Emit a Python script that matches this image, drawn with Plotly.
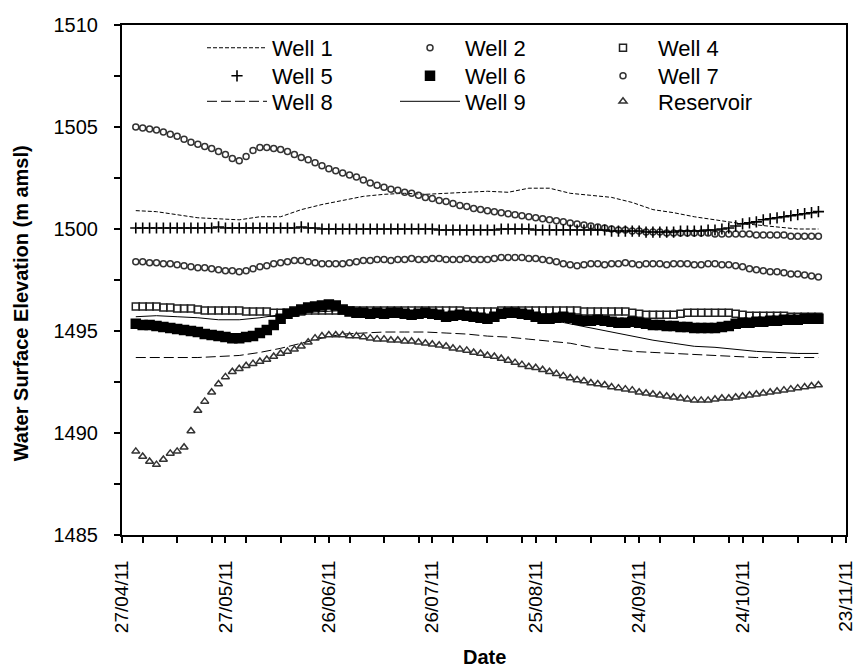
import pandas as pd
import plotly.graph_objects as go

# Observation dates: marker series sampled every 2 days, line series every 6 days
marker_dates = pd.date_range("2011-05-01", periods=100, freq="2D")
line_dates = pd.date_range("2011-05-01", periods=34, freq="6D")

well1 = [1500.90, 1500.85, 1500.70, 1500.55, 1500.50, 1500.45, 1500.60, 1500.60, 1500.95, 1501.20,
         1501.40, 1501.60, 1501.70, 1501.75, 1501.70, 1501.75, 1501.80, 1501.85, 1501.80, 1502.00,
         1502.00, 1501.75, 1501.65, 1501.55, 1501.30, 1500.95, 1500.80, 1500.60, 1500.45, 1500.30,
         1500.20, 1500.10, 1500.00, 1500.00]

well8 = [1493.70, 1493.70, 1493.70, 1493.70, 1493.75, 1493.80, 1493.95, 1494.15, 1494.40, 1494.65,
         1494.85, 1494.90, 1494.95, 1494.95, 1494.95, 1494.90, 1494.85, 1494.75, 1494.70, 1494.60,
         1494.50, 1494.40, 1494.20, 1494.10, 1494.00, 1493.95, 1493.90, 1493.85, 1493.80, 1493.75,
         1493.70, 1493.70, 1493.70, 1493.70]

well9 = [1495.70, 1495.75, 1495.70, 1495.65, 1495.55, 1495.55, 1495.65, 1495.80, 1495.90, 1495.95,
         1496.00, 1496.00, 1496.00, 1495.95, 1495.95, 1495.90, 1495.85, 1495.80, 1495.75, 1495.70,
         1495.55, 1495.35, 1495.15, 1494.95, 1494.75, 1494.55, 1494.40, 1494.25, 1494.20, 1494.10,
         1494.00, 1493.95, 1493.90, 1493.90]

well2 = [1505.00, 1504.95, 1504.90, 1504.85, 1504.75, 1504.65, 1504.55, 1504.40, 1504.25, 1504.15,
         1504.05, 1503.95, 1503.80, 1503.65, 1503.45, 1503.35, 1503.55, 1503.85, 1504.00, 1504.00,
         1503.95, 1503.90, 1503.80, 1503.65, 1503.50, 1503.40, 1503.25, 1503.10, 1502.95, 1502.85,
         1502.75, 1502.65, 1502.55, 1502.40, 1502.25, 1502.15, 1502.05, 1501.95, 1501.90, 1501.80,
         1501.75, 1501.65, 1501.55, 1501.50, 1501.40, 1501.35, 1501.25, 1501.15, 1501.10, 1501.00,
         1500.95, 1500.90, 1500.85, 1500.80, 1500.75, 1500.70, 1500.65, 1500.60, 1500.55, 1500.50,
         1500.45, 1500.40, 1500.35, 1500.30, 1500.25, 1500.20, 1500.15, 1500.10, 1500.05, 1500.00,
         1499.95, 1499.95, 1499.90, 1499.90, 1499.85, 1499.85, 1499.85, 1499.80, 1499.80, 1499.80,
         1499.80, 1499.80, 1499.80, 1499.80, 1499.75, 1499.75, 1499.75, 1499.75, 1499.75, 1499.75,
         1499.70, 1499.70, 1499.70, 1499.70, 1499.70, 1499.65, 1499.65, 1499.65, 1499.65, 1499.65]

well4 = [1496.20, 1496.20, 1496.20, 1496.20, 1496.15, 1496.15, 1496.10, 1496.10, 1496.10, 1496.05,
         1496.00, 1496.00, 1496.00, 1496.00, 1496.00, 1496.00, 1495.95, 1495.95, 1495.95, 1495.95,
         1495.90, 1495.90, 1495.90, 1495.90, 1495.95, 1496.00, 1496.00, 1496.00, 1496.00, 1496.00,
         1496.00, 1496.00, 1496.00, 1496.00, 1496.00, 1496.00, 1496.00, 1496.00, 1496.00, 1496.00,
         1496.00, 1496.00, 1496.00, 1496.00, 1496.00, 1496.00, 1496.00, 1496.00, 1495.95, 1495.95,
         1495.95, 1495.95, 1495.95, 1496.00, 1496.00, 1496.00, 1496.00, 1496.00, 1496.00, 1496.00,
         1496.00, 1496.00, 1496.00, 1496.00, 1496.00, 1495.95, 1495.95, 1495.95, 1495.95, 1495.95,
         1495.95, 1495.95, 1495.90, 1495.85, 1495.80, 1495.80, 1495.80, 1495.80, 1495.80, 1495.85,
         1495.90, 1495.90, 1495.90, 1495.90, 1495.90, 1495.90, 1495.90, 1495.85, 1495.80, 1495.75,
         1495.75, 1495.75, 1495.75, 1495.75, 1495.75, 1495.70, 1495.70, 1495.70, 1495.70, 1495.70]

well5 = [1500.05, 1500.05, 1500.05, 1500.05, 1500.05, 1500.05, 1500.05, 1500.05, 1500.05, 1500.05,
         1500.05, 1500.05, 1500.10, 1500.05, 1500.05, 1500.05, 1500.05, 1500.05, 1500.05, 1500.05,
         1500.05, 1500.05, 1500.05, 1500.05, 1500.10, 1500.05, 1500.05, 1500.00, 1500.00, 1500.00,
         1500.00, 1500.00, 1500.00, 1500.00, 1500.00, 1500.00, 1500.00, 1500.00, 1500.00, 1500.00,
         1500.00, 1500.00, 1500.00, 1500.00, 1499.95, 1499.95, 1499.95, 1499.95, 1499.95, 1499.95,
         1499.95, 1499.95, 1499.95, 1500.00, 1500.00, 1500.00, 1500.00, 1500.00, 1499.95, 1499.95,
         1499.95, 1499.95, 1499.95, 1499.95, 1499.95, 1499.95, 1499.95, 1499.95, 1499.95, 1499.90,
         1499.90, 1499.90, 1499.90, 1499.90, 1499.85, 1499.85, 1499.85, 1499.85, 1499.85, 1499.90,
         1499.90, 1499.90, 1499.90, 1499.95, 1499.95, 1500.00, 1500.05, 1500.15, 1500.25, 1500.30,
         1500.35, 1500.45, 1500.50, 1500.55, 1500.60, 1500.65, 1500.70, 1500.75, 1500.80, 1500.85]

well6 = [1495.35, 1495.30, 1495.30, 1495.25, 1495.20, 1495.15, 1495.10, 1495.05, 1495.00, 1494.95,
         1494.85, 1494.80, 1494.75, 1494.70, 1494.65, 1494.65, 1494.70, 1494.75, 1494.90, 1495.05,
         1495.30, 1495.60, 1495.85, 1495.95, 1496.05, 1496.15, 1496.20, 1496.25, 1496.30, 1496.25,
         1496.05, 1495.95, 1495.90, 1495.90, 1495.85, 1495.90, 1495.85, 1495.90, 1495.90, 1495.85,
         1495.80, 1495.85, 1495.90, 1495.85, 1495.80, 1495.70, 1495.75, 1495.80, 1495.75, 1495.70,
         1495.65, 1495.60, 1495.70, 1495.85, 1495.90, 1495.90, 1495.85, 1495.80, 1495.70, 1495.60,
         1495.60, 1495.65, 1495.70, 1495.65, 1495.55, 1495.50, 1495.50, 1495.55, 1495.50, 1495.45,
         1495.40, 1495.40, 1495.45, 1495.40, 1495.35, 1495.30, 1495.30, 1495.25, 1495.25, 1495.20,
         1495.20, 1495.15, 1495.15, 1495.15, 1495.15, 1495.20, 1495.25, 1495.35, 1495.40, 1495.40,
         1495.45, 1495.45, 1495.50, 1495.50, 1495.55, 1495.55, 1495.55, 1495.60, 1495.60, 1495.60]

well7 = [1498.40, 1498.40, 1498.35, 1498.35, 1498.30, 1498.30, 1498.25, 1498.20, 1498.15, 1498.10,
         1498.10, 1498.05, 1498.00, 1497.95, 1497.95, 1497.90, 1497.95, 1498.05, 1498.15, 1498.20,
         1498.30, 1498.35, 1498.40, 1498.45, 1498.45, 1498.40, 1498.35, 1498.30, 1498.30, 1498.30,
         1498.30, 1498.35, 1498.40, 1498.45, 1498.45, 1498.50, 1498.50, 1498.45, 1498.50, 1498.50,
         1498.55, 1498.50, 1498.50, 1498.55, 1498.55, 1498.50, 1498.50, 1498.50, 1498.55, 1498.50,
         1498.50, 1498.50, 1498.55, 1498.60, 1498.60, 1498.60, 1498.60, 1498.55, 1498.55, 1498.50,
         1498.45, 1498.40, 1498.30, 1498.25, 1498.20, 1498.25, 1498.30, 1498.30, 1498.25, 1498.30,
         1498.30, 1498.35, 1498.30, 1498.25, 1498.30, 1498.30, 1498.30, 1498.25, 1498.30, 1498.30,
         1498.30, 1498.25, 1498.25, 1498.30, 1498.30, 1498.25, 1498.25, 1498.20, 1498.15, 1498.05,
         1498.00, 1497.95, 1497.90, 1497.90, 1497.85, 1497.80, 1497.80, 1497.75, 1497.70, 1497.65]

reservoir = [1489.10, 1488.85, 1488.60, 1488.45, 1488.70, 1489.00, 1489.10, 1489.30, 1490.10, 1491.10,
             1491.55, 1492.00, 1492.40, 1492.75, 1493.00, 1493.15, 1493.30, 1493.40, 1493.50, 1493.60,
             1493.75, 1493.90, 1494.00, 1494.10, 1494.25, 1494.45, 1494.65, 1494.75, 1494.80, 1494.80,
             1494.80, 1494.75, 1494.75, 1494.70, 1494.65, 1494.60, 1494.60, 1494.55, 1494.55, 1494.50,
             1494.50, 1494.45, 1494.40, 1494.35, 1494.30, 1494.25, 1494.15, 1494.10, 1494.05, 1493.95,
             1493.90, 1493.80, 1493.75, 1493.65, 1493.55, 1493.45, 1493.35, 1493.25, 1493.20, 1493.10,
             1493.00, 1492.90, 1492.80, 1492.70, 1492.60, 1492.55, 1492.45, 1492.40, 1492.35, 1492.25,
             1492.20, 1492.15, 1492.10, 1492.00, 1491.95, 1491.90, 1491.85, 1491.80, 1491.75, 1491.70,
             1491.65, 1491.60, 1491.60, 1491.60, 1491.65, 1491.70, 1491.70, 1491.75, 1491.80, 1491.85,
             1491.90, 1491.95, 1492.00, 1492.05, 1492.10, 1492.15, 1492.20, 1492.25, 1492.30, 1492.35]

FONT = "Liberation Sans, Arial, sans-serif"
DAY_MS = 86400000

fig = go.Figure()


def add_line(name, y, dash, legend):
    fig.add_trace(go.Scatter(
        x=line_dates, y=y, name=name, mode="lines", legend=legend,
        line=dict(color="black", width=1, dash=dash),
    ))


def add_markers(name, y, symbol, size, color, legend, width=1.5):
    fig.add_trace(go.Scatter(
        x=marker_dates, y=y, name=name, mode="markers", legend=legend,
        marker=dict(symbol=symbol, size=size, color=color,
                    line=dict(color=color, width=width)),
    ))


# Row 1 of the key
add_line("Well 1", well1, "4px,2px", "legend")
add_markers("Well 2", well2, "circle-open", 6, "#333333", "legend")
add_markers("Well 4", well4, "square-open", 7, "#222222", "legend")
# Row 2
add_markers("Well 5", well5, "cross-thin-open", 8, "black", "legend2", 1.6)
add_markers("Well 6", well6, "square", 9, "black", "legend2")
add_markers("Well 7", well7, "circle-open", 6, "#333333", "legend2")
# Row 3
add_line("Well 8", well8, "10px,4px", "legend3")
add_line("Well 9", well9, "solid", "legend3")
add_markers("Reservoir", reservoir, "triangle-up-open", 7, "#333333", "legend3")

legend_common = dict(
    orientation="h", x=0.1105, xanchor="left", yanchor="middle",
    itemwidth=60, entrywidth=118, bgcolor="rgba(0,0,0,0)",
    font=dict(family=FONT, size=22, color="black"),
)

fig.update_layout(
    width=858, height=667,
    margin=dict(l=122, r=12, t=25, b=132),
    paper_bgcolor="white", plot_bgcolor="white",
    font=dict(family=FONT, color="black"),
    legend=dict(legend_common, y=0.955),
    legend2=dict(legend_common, y=0.900),
    legend3=dict(legend_common, y=0.850),
    xaxis=dict(
        type="date",
        range=["2011-04-27", "2011-11-23"],
        tick0="2011-04-27", dtick=30 * DAY_MS,
        tickformat="%d/%m/%y", tickangle=-90,
        ticks="outside", ticklen=6, tickwidth=1.5, tickcolor="black",
        minor=dict(dtick=10 * DAY_MS, ticks="outside", ticklen=6,
                   tickwidth=1.5, tickcolor="black"),
        showgrid=False, zeroline=False,
        showline=True, linecolor="black", linewidth=2, mirror=True,
        tickfont=dict(family=FONT, size=19, color="black"),
        ticklabelstandoff=10,
        automargin=False,
    ),
    yaxis=dict(
        range=[1485, 1510], tick0=1485, dtick=5,
        ticks="outside", ticklen=6, tickwidth=1.5, tickcolor="black",
        minor=dict(dtick=2.5, ticks="outside", ticklen=6,
                   tickwidth=1.5, tickcolor="black"),
        showgrid=False, zeroline=False,
        showline=True, linecolor="black", linewidth=2, mirror=True,
        tickfont=dict(family=FONT, size=20, color="black"),
        ticklabelstandoff=12,
        automargin=False,
    ),
    annotations=[
        dict(text="Date", xref="paper", yref="paper", x=0.5, y=-0.239,
             xanchor="center", yanchor="middle", showarrow=False,
             font=dict(family=FONT, size=20, color="black", weight="bold")),
        dict(text="Water Surface Elevation (m amsl)", xref="paper", yref="paper",
             x=-0.139, y=0.455, textangle=-90,
             xanchor="center", yanchor="middle", showarrow=False,
             font=dict(family=FONT, size=20, color="black", weight="bold")),
    ],
)

fig.write_html("out.html")
